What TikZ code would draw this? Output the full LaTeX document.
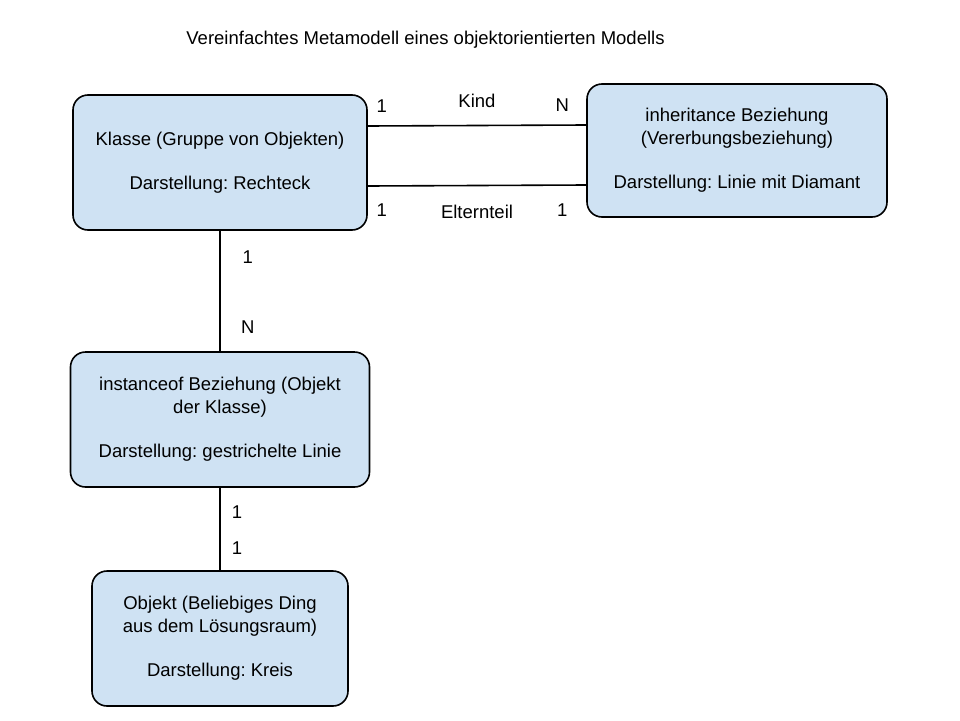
\documentclass[tikz,border=0pt]{standalone}
\usepackage{fontspec}
\setmainfont{Liberation Sans}
\usepackage{xcolor}
\usepackage{tikz}
\usetikzlibrary{arrows}
\definecolor{boxblue}{HTML}{CFE2F3}
\frenchspacing

\begin{document}
\begin{tikzpicture}[-, x=1pt, y=-1pt, font=\fontsize{18.5}{23}\selectfont]

    \useasboundingbox (0,0) rectangle (960,720);

    \node[] (title) at (425.5,40) {Vereinfachtes Metamodell eines objektorientierten Modells};

    \node[rectangle,
          rounded corners = 15pt,
          draw,
          line width = 1.6pt,
          fill = boxblue,
          minimum width = 294pt, 
          minimum height = 135pt
          ] (klasse) at (220,162.5) {};
    \node[align = center] at (klasse.center) {Klasse (Gruppe von Objekten)\\[21pt]Darstellung: Rechteck};

    \node[rectangle,
          rounded corners = 15pt,
          draw,
          line width = 1.6pt,
          fill = boxblue,
          minimum width = 300pt, 
          minimum height = 133pt
          ] (inherit) at (737,150.5) {};
    \node[align = center] at (inherit.center) {inheritance Beziehung\\(Vererbungsbeziehung)\\[21pt]Darstellung: Linie mit Diamant};

    \node[rectangle,
          rounded corners = 15pt,
          draw,
          line width = 1.6pt,
          fill = boxblue,
          minimum width = 299pt, 
          minimum height = 135pt
          ] (inst) at (220,419.5) {};
    \node[align = center] at (inst.center) {instanceof Beziehung (Objekt\\der Klasse)\\[21pt]Darstellung: gestrichelte Linie};

    \node[rectangle,
          rounded corners = 15pt,
          draw,
          line width = 1.6pt,
          fill = boxblue,
          minimum width = 256pt, 
          minimum height = 135pt
          ] (objekt) at (220,638.5) {};
    \node[align = center] at (objekt.center) {Objekt (Beliebiges Ding\\aus dem Lösungsraum)\\[21pt]Darstellung: Kreis};


    \path[line width = 1.6pt, every node/.style={inner sep=0pt}]
    %Kind / Elternteil
    ([yshift=36.5pt]klasse.east) edge [] node [pos=0.064, above=12.4pt] {1} node [above=17.4pt] {Kind} node [pos=0.89, above=12.4pt] {N} ([yshift=25.5pt]inherit.west)
    ([yshift=-23.5pt]klasse.east) edge [] node [pos=0.064, below=17.4pt] {1} node [below=18.3pt] {Elternteil} node [pos=0.89, below=17.4pt] {1} ([yshift=-34.5pt]inherit.west)
    %instanceof
    (klasse.south) edge [] node [pos=0.22, right=21.9pt] {1} node [pos=0.80, right=20.3pt] {N} (inst.north)
    (inst.south) edge [] node [pos=0.30, right=11pt] {1} node [pos=0.73, right=11pt] {1} (objekt.north) ;


\end{tikzpicture}
\end{document}
